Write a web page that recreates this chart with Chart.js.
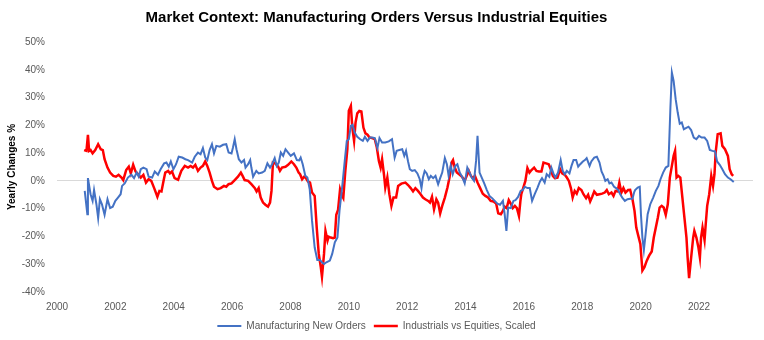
<!DOCTYPE html>
<html>
<head>
<meta charset="utf-8">
<script src="https://cdn.jsdelivr.net/npm/chart.js@4"></script>
<style>
  html, body { margin: 0; padding: 0; background: #fff; }
  #wrap { width: 764px; height: 340px; }
</style>
</head>
<body>
<div id="wrap"><canvas id="myChart" width="764" height="340"></canvas></div>
<script>
const chartTitle = 'Market Context: Manufacturing Orders Versus Industrial Equities';
const yTitle = 'Yearly Changes %';
const yearTicks = [2000, 2002, 2004, 2006, 2008, 2010, 2012, 2014, 2016, 2018, 2020, 2022];

// Manufacturing New Orders (blue), decimal year / % yoy
const ordersYears = [
    2000.95, 2001.04, 2001.06, 2001.15, 2001.22, 2001.27, 2001.35, 2001.41, 2001.47, 2001.54, 2001.63, 2001.73, 2001.82, 2001.91,
    2002.0, 2002.09, 2002.18, 2002.23, 2002.32, 2002.43, 2002.55, 2002.64, 2002.73, 2002.8, 2002.87, 2002.96,
    2003.07, 2003.14, 2003.26, 2003.35, 2003.46, 2003.55, 2003.67, 2003.75, 2003.83, 2003.9, 2003.99,
    2004.08, 2004.17, 2004.29, 2004.4, 2004.49, 2004.63, 2004.72, 2004.83, 2004.92,
    2005.0, 2005.08, 2005.15, 2005.23, 2005.31, 2005.38, 2005.46, 2005.58, 2005.69, 2005.8, 2005.88, 2005.98,
    2006.03, 2006.09, 2006.15, 2006.23, 2006.32, 2006.41, 2006.46, 2006.55, 2006.62, 2006.66, 2006.72, 2006.83, 2006.91,
    2007.03, 2007.12, 2007.21, 2007.3, 2007.37, 2007.46, 2007.53, 2007.6, 2007.67, 2007.75, 2007.83, 2007.92,
    2008.01, 2008.12, 2008.22, 2008.3, 2008.35, 2008.42, 2008.51, 2008.58, 2008.66, 2008.74, 2008.83, 2008.92,
    2009.01, 2009.08, 2009.15, 2009.23, 2009.35, 2009.43, 2009.52, 2009.61, 2009.68, 2009.77, 2009.86, 2009.93,
    2010.0, 2010.07, 2010.13, 2010.2, 2010.29, 2010.39, 2010.48, 2010.55, 2010.64, 2010.72, 2010.8, 2010.89, 2010.98,
    2011.05, 2011.14, 2011.25, 2011.37, 2011.48, 2011.57, 2011.64, 2011.73, 2011.83, 2011.9, 2011.96,
    2012.03, 2012.09, 2012.17, 2012.26, 2012.35, 2012.43, 2012.49, 2012.54, 2012.6, 2012.67, 2012.74, 2012.81, 2012.89, 2012.97,
    2013.06, 2013.13, 2013.2, 2013.29, 2013.36, 2013.42, 2013.49, 2013.56, 2013.65, 2013.72, 2013.8, 2013.88, 2013.97,
    2014.06, 2014.14, 2014.22, 2014.29, 2014.36, 2014.41, 2014.48, 2014.54, 2014.64, 2014.73, 2014.82, 2014.91,
    2015.0, 2015.09, 2015.18, 2015.28, 2015.34, 2015.4, 2015.46, 2015.55, 2015.64, 2015.71, 2015.8, 2015.89, 2015.96,
    2016.03, 2016.12, 2016.2, 2016.28, 2016.37, 2016.46, 2016.55, 2016.62, 2016.71, 2016.78, 2016.87, 2016.94,
    2017.01, 2017.08, 2017.17, 2017.26, 2017.33, 2017.4, 2017.47, 2017.56, 2017.63, 2017.7, 2017.79, 2017.86, 2017.93,
    2018.02, 2018.09, 2018.15, 2018.25, 2018.31, 2018.41, 2018.5, 2018.59, 2018.66, 2018.73, 2018.79, 2018.87, 2018.93,
    2019.0, 2019.09, 2019.16, 2019.23, 2019.3, 2019.37, 2019.46, 2019.55, 2019.64, 2019.72, 2019.78, 2019.81, 2019.9, 2019.97,
    2020.01, 2020.06, 2020.11, 2020.17, 2020.24, 2020.33, 2020.43, 2020.52, 2020.61, 2020.68, 2020.77, 2020.86, 2020.95,
    2021.02, 2021.07, 2021.13, 2021.2, 2021.27, 2021.34, 2021.41, 2021.48, 2021.55, 2021.64, 2021.73, 2021.82, 2021.91,
    2022.0, 2022.09, 2022.19, 2022.28, 2022.37, 2022.46, 2022.55, 2022.62, 2022.71, 2022.8, 2022.89, 2022.99,
    2023.08, 2023.19
];
const ordersValues = [
    -3.6, -12.0, 1.0, -4.8, -7.2, -3.3, -8.4, -13.4, -6.6, -8.4, -12.2, -6.6, -9.8, -9.3,
    -7.2, -6.0, -4.8, -1.8, -0.9, 1.2, 2.2, 1.0, 3.0, 1.5, 4.2, 4.8,
    4.2, 1.5, 1.2, 3.4, 2.2, 4.2, 6.3, 6.6, 5.1, 7.0, 4.2,
    6.0, 8.7, 8.4, 7.8, 7.5, 6.6, 8.7, 10.2, 9.6,
    11.8, 8.4, 7.5, 11.1, 13.2, 9.9, 12.6, 12.3, 13.0, 13.2, 10.2, 9.9,
    12.0, 15.0, 11.4, 7.8, 6.6, 7.5, 4.8, 6.0, 7.5, 4.8, 1.5, 3.6, 2.7,
    3.0, 3.6, 6.3, 4.8, 6.0, 8.2, 5.4, 6.6, 10.2, 9.0, 11.4, 10.2,
    9.0, 9.9, 7.5, 7.4, 8.4, 6.0, 1.8, 1.2, -3.0, -14.4, -24.0, -28.5,
    -28.5, -29.3, -29.9, -29.3, -28.7, -26.3, -22.1, -20.4, -10.8, -2.4, 7.2, 14.4,
    15.0, 19.8, 20.2, 17.4, 15.9, 15.0, 14.4, 15.9, 14.4, 15.6, 15.6, 15.4, 11.8,
    15.4, 13.8, 13.8, 14.2, 15.0, 8.4, 10.8, 11.1, 11.4, 9.0, 10.8,
    7.0, 4.2, 3.6, 3.9, 2.7, 0.6, -2.6, 1.2, 3.6, 2.7, 0.6, 1.8, 1.0, 1.8,
    -1.2, 1.0, 3.0, 8.2, 6.0, 1.8, 5.4, 2.4, 5.4, 6.0, 3.0, 1.5, -0.9,
    4.8, 3.0, 1.0, 0.0, 7.2, 16.2, 3.0, 1.5, -0.9, -3.3, -5.4, -6.2,
    -7.2, -8.2, -8.6, -7.2, -12.0, -18.0, -9.6, -9.8, -7.2, -6.9, -5.8, -3.6, -3.3,
    -2.1, -2.6, -2.6, -7.2, -4.8, -2.6, -0.2, 1.0, -0.6, 2.4, 1.5, 4.8,
    2.7, 1.2, 3.0, 7.5, 3.6, 2.4, 3.6, 2.7, 5.4, 7.5, 7.5, 5.1, 6.0,
    7.0, 7.5, 8.2, 5.4, 7.0, 8.4, 8.7, 6.6, 3.4, 1.8, 0.0, 0.6, -0.9,
    -0.6, -2.1, -2.6, -3.3, -4.8, -6.0, -7.2, -6.6, -6.4, -6.4, -4.0, -3.3, -2.4, -2.1,
    -12.0, -20.4, -24.9, -19.2, -12.0, -8.4, -6.0, -3.6, -1.8, 0.6, 3.0, 4.8, 5.4,
    26.4, 39.0, 36.0, 29.4, 24.6, 20.6, 21.0, 18.6, 19.0, 19.5, 18.3, 15.6, 15.0,
    16.2, 15.6, 15.6, 14.4, 11.1, 10.8, 10.6, 7.0, 5.8, 4.2, 2.4, 1.2,
    0.6, -0.4
];

// Industrials vs Equities, Scaled (red)
const industrialsYears = [
    2000.93, 2001.01, 2001.06, 2001.1, 2001.15, 2001.22, 2001.31, 2001.41, 2001.5, 2001.57, 2001.63, 2001.73, 2001.82, 2001.93,
    2002.02, 2002.11, 2002.21, 2002.27, 2002.37, 2002.46, 2002.53, 2002.61, 2002.69, 2002.78, 2002.87, 2002.96,
    2003.05, 2003.14, 2003.23, 2003.33, 2003.44, 2003.51, 2003.58, 2003.65, 2003.71, 2003.81, 2003.87, 2003.94,
    2004.03, 2004.15, 2004.26, 2004.38, 2004.49, 2004.58, 2004.66, 2004.74, 2004.83, 2004.92,
    2005.0, 2005.08, 2005.15, 2005.23, 2005.31, 2005.38, 2005.5, 2005.61, 2005.72, 2005.8, 2005.88, 2005.98,
    2006.09, 2006.2, 2006.3, 2006.36, 2006.43, 2006.55, 2006.66, 2006.78, 2006.84, 2006.91, 2006.98,
    2007.06, 2007.14, 2007.23, 2007.3, 2007.35, 2007.4, 2007.48, 2007.58, 2007.64, 2007.71, 2007.83, 2007.92,
    2008.03, 2008.12, 2008.2, 2008.28, 2008.33, 2008.4, 2008.47, 2008.53, 2008.6, 2008.67, 2008.74, 2008.83, 2008.9, 2008.97,
    2009.04, 2009.08, 2009.15, 2009.2, 2009.27, 2009.31, 2009.38, 2009.46, 2009.52, 2009.57, 2009.63, 2009.7, 2009.77, 2009.81, 2009.88, 2009.95,
    2010.0, 2010.07, 2010.12, 2010.18, 2010.23, 2010.29, 2010.36, 2010.43, 2010.5, 2010.57, 2010.64, 2010.71, 2010.8, 2010.89, 2010.96,
    2011.03, 2011.09, 2011.14, 2011.21, 2011.25, 2011.32, 2011.39, 2011.46, 2011.53, 2011.62, 2011.69, 2011.8, 2011.94,
    2012.03, 2012.12, 2012.2, 2012.28, 2012.37, 2012.46, 2012.54, 2012.62, 2012.72, 2012.78, 2012.85, 2012.92,
    2013.0, 2013.06, 2013.13, 2013.2, 2013.29, 2013.38, 2013.45, 2013.52, 2013.57, 2013.63, 2013.7, 2013.8, 2013.88, 2013.97,
    2014.04, 2014.11, 2014.18, 2014.25, 2014.32, 2014.41, 2014.5, 2014.59, 2014.68, 2014.77, 2014.86, 2014.96,
    2015.05, 2015.12, 2015.21, 2015.28, 2015.34, 2015.41, 2015.48, 2015.55, 2015.62, 2015.69, 2015.76, 2015.83, 2015.88, 2015.91, 2015.98,
    2016.05, 2016.12, 2016.19, 2016.26, 2016.35, 2016.43, 2016.51, 2016.6, 2016.67, 2016.76, 2016.85, 2016.92, 2016.99,
    2017.06, 2017.15, 2017.24, 2017.31, 2017.4, 2017.47, 2017.54, 2017.61, 2017.67, 2017.74, 2017.81, 2017.88, 2017.97,
    2018.04, 2018.13, 2018.2, 2018.27, 2018.34, 2018.41, 2018.5, 2018.59, 2018.68, 2018.77, 2018.84, 2018.91,
    2019.0, 2019.07, 2019.14, 2019.21, 2019.27, 2019.34, 2019.41, 2019.48, 2019.57, 2019.64, 2019.72, 2019.79, 2019.85, 2019.92, 2019.99,
    2020.06, 2020.13, 2020.21, 2020.29, 2020.38, 2020.45, 2020.52, 2020.59, 2020.65, 2020.72, 2020.79, 2020.86, 2020.93,
    2021.0, 2021.07, 2021.13, 2021.18, 2021.23, 2021.29, 2021.36, 2021.43, 2021.5, 2021.57, 2021.61, 2021.66, 2021.73, 2021.8, 2021.84, 2021.91, 2021.98,
    2022.03, 2022.07, 2022.12, 2022.19, 2022.23, 2022.28, 2022.35, 2022.42, 2022.48, 2022.53, 2022.57, 2022.64, 2022.74, 2022.8, 2022.89, 2022.99,
    2023.05, 2023.12, 2023.17
];
const industrialsValues = [
    11.1, 10.8, 16.6, 10.8, 11.1, 9.9, 11.1, 13.2, 11.4, 11.1, 7.8, 4.8, 3.0, 1.8,
    1.5, 2.2, 1.2, 0.3, 3.9, 5.1, 2.7, 5.8, 3.4, 2.4, 1.2, 2.2,
    -0.6, 0.6, 0.0, -2.6, -5.7, -3.6, -3.8, 0.0, 3.0, 3.6, 2.7, 3.4,
    1.0, 0.4, 3.6, 5.4, 4.8, 5.4, 4.8, 5.8, 3.6, 4.8,
    5.4, 7.0, 5.4, 3.0, 0.0, -2.1, -3.0, -2.6, -1.8, -2.1, -1.2, -0.9,
    0.3, 1.5, 3.0, 1.8, 0.3, 0.0, -1.2, -2.6, -3.8, -2.6, -6.0,
    -7.8, -8.6, -9.3, -7.8, -3.6, 6.6, 6.3, 5.1, 3.6, 4.8, 5.1, 5.8,
    7.0, 6.0, 4.8, 3.0, 2.4, 0.6, 1.5, 1.0, -0.2, -0.6, -4.2, -5.4, -16.8, -26.3,
    -31.1, -34.5, -26.3, -18.0, -21.5, -20.1, -20.4, -20.6, -20.4, -12.2, -10.5, -3.0, -5.4, -6.2, 3.6, 11.4,
    25.2, 27.0, 19.2, 14.4, 21.0, 24.3, 25.2, 25.0, 19.2, 17.1, 16.6, 15.6, 15.4, 15.0, 12.0,
    7.2, 4.8, 7.8, 1.8, -2.4, 1.2, -4.8, -9.0, -6.0, -6.0, -1.8, -1.0, -0.6,
    -1.5, -2.6, -3.8, -2.6, -3.6, -4.8, -6.0, -6.6, -7.2, -7.8, -5.7, -10.2,
    -6.6, -7.8, -11.7, -9.0, -6.0, -2.4, 1.2, 6.6, 7.5, 4.8, 3.0, 2.2, 1.5, 0.0,
    1.8, 3.6, 1.8, 1.0, 1.8, -0.6, -2.6, -4.6, -5.4, -6.0, -7.2, -7.4,
    -8.2, -11.7, -12.0, -10.8, -9.3, -9.8, -6.9, -8.2, -9.8, -9.0, -9.8, -12.6, -7.2, -4.8, -2.4,
    0.0, 4.6, 3.0, 3.9, 4.8, 3.6, 3.4, 3.4, 6.6, 6.3, 6.0, 4.2, 1.8,
    1.0, 1.2, 4.2, 2.7, 2.2, 1.2, 0.0, -2.6, -6.0, -3.6, -4.6, -2.6, -3.3,
    -4.8, -6.2, -5.0, -7.4, -5.7, -3.8, -5.0, -4.8, -4.6, -4.2, -3.3, -4.8,
    -4.2, -5.4, -3.6, -3.8, -0.6, -4.2, -2.6, -4.2, -3.3, -3.2, -6.6, -10.8, -16.8, -19.8, -22.7,
    -32.3, -31.1, -28.7, -26.9, -25.4, -20.4, -16.8, -13.2, -9.6, -9.0, -9.6, -12.2, -8.4,
    1.2, 5.4, 9.0, 10.8, 1.2, 1.8, 1.2, -6.0, -13.2, -20.4, -27.6, -35.0, -27.6, -20.4, -18.0, -20.4, -24.0,
    -27.6, -20.4, -16.8, -21.3, -15.6, -9.0, -4.8, 1.8, -1.8, 2.4, 10.2, 16.8, 17.1, 12.6, 11.4, 9.0,
    4.2, 2.4, 1.8
];

const toPoints = (xs, ys) => xs.map((x, i) => ({ x: x, y: ys[i] }));

const fontFamily = '"Liberation Sans", Arial, sans-serif';
const tickColor = '#595959';

const ctx = document.getElementById('myChart').getContext('2d');
const myChart = new Chart(ctx, {
    type: 'line',
    data: {
        datasets: [{
            label: 'Manufacturing New Orders',
            data: toPoints(ordersYears, ordersValues),
            borderColor: '#4472C4',
            backgroundColor: '#4472C4',
            borderWidth: 2,
            pointRadius: 0,
            tension: 0
        }, {
            label: 'Industrials vs Equities, Scaled',
            data: toPoints(industrialsYears, industrialsValues),
            borderColor: '#FF0000',
            backgroundColor: '#FF0000',
            borderWidth: 2.5,
            pointRadius: 0,
            tension: 0
        }]
    },
    options: {
        responsive: false,
        animation: false,
        layout: { padding: { left: 0, right: 11, top: 0, bottom: 0 } },
        plugins: {
            title: {
                display: true,
                text: chartTitle,
                color: '#000',
                font: { family: fontFamily, size: 15, weight: 'bold' },
                padding: { top: 9, bottom: 15 }
            },
            legend: {
                position: 'bottom',
                maxHeight: 27,
                labels: {
                    usePointStyle: true,
                    pointStyle: 'line',
                    pointStyleWidth: 24,
                    color: tickColor,
                    padding: 8,
                    font: { family: fontFamily, size: 10 }
                }
            },
            tooltip: { enabled: false }
        },
        scales: {
            x: {
                type: 'linear',
                min: 2000,
                max: 2023.85,
                grid: { display: false, drawTicks: false },
                border: { display: false },
                afterFit: (scale) => { scale.height = 21; },
                ticks: {
                    stepSize: 2,
                    includeBounds: false,
                    autoSkip: false,
                    maxRotation: 0,
                    padding: 9,
                    color: tickColor,
                    font: { family: fontFamily, size: 10 },
                    callback: (v) => (yearTicks.includes(v) ? String(v) : '')
                }
            },
            y: {
                min: -40,
                max: 50,
                afterFit: (scale) => { scale.width = 57; },
                border: { display: false },
                grid: {
                    drawTicks: false,
                    color: (c) => (c.tick && c.tick.value === 0 ? '#D9D9D9' : 'rgba(0,0,0,0)'),
                    lineWidth: 1
                },
                title: {
                    display: true,
                    text: yTitle,
                    color: '#000',
                    font: { family: fontFamily, size: 10, weight: 'bold' },
                    padding: { top: 6, bottom: 0 }
                },
                ticks: {
                    stepSize: 10,
                    padding: 12,
                    color: tickColor,
                    font: { family: fontFamily, size: 10 },
                    callback: (v) => v + '%'
                }
            }
        }
    }
});
</script>
</body>
</html>
